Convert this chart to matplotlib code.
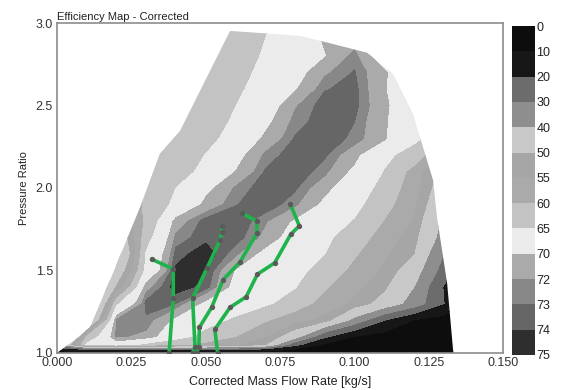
import numpy as np
import matplotlib.pyplot as plt
from matplotlib.patches import Polygon

plt.rcParams['font.family'] = ['Liberation Sans', 'DejaVu Sans']

# efficiency [%] sampled on a flow / pressure-ratio grid
flow = np.array([0.00, 0.01, 0.02, 0.03, 0.04, 0.05, 0.06, 0.07,
                 0.08, 0.09, 0.10, 0.11, 0.12, 0.13, 0.14])
pr = np.array([1.00, 1.02, 1.05, 1.10, 1.20, 1.30, 1.40, 1.50, 1.60, 1.70, 1.80,
               1.90, 2.00, 2.10, 2.20, 2.30, 2.40, 2.50, 2.60, 2.70, 2.80, 2.90, 3.00])
eff = np.array([
    [5, 8, 10, 10, 10, 10, 8, 6, 5, 5, 4, 4, 3, 3, 3],
    [12, 18, 20, 20, 19, 19, 18, 15, 8, 5, 5, 4, 4, 3, 3],
    [35, 66, 68, 63.5, 61, 58.5, 55.5, 50, 23, 8, 5, 5, 4, 4, 3],
    [10, 60, 72.3, 71.5, 67, 63.3, 60, 55, 44.5, 22, 10, 6, 5, 4, 3],
    [5, 34, 72.1, 72.8, 69.3, 66.9, 64.2, 60.6, 57, 53.1, 37, 20.5, 10, 6, 3],
    [5, 24, 63.8, 73.4, 73.0, 69.2, 67.5, 65.8, 62.6, 58.1, 53.7, 46.8, 35.7, 20.3, 3],
    [5, 18, 50.5, 71.3, 74.6, 73.6, 68.9, 67, 65.2, 60.6, 56.2, 51.1, 40, 19.5, 5],
    [10, 20, 43, 66.3, 74.3, 74.1, 69.8, 68, 66.3, 63.3, 58.6, 54, 45, 26, 8],
    [20, 28, 36, 65.5, 73.4, 74.8, 72.3, 69, 67, 65, 60.6, 55.9, 50, 30, 15],
    [30, 36, 42, 63, 72.4, 73.6, 73.6, 71.5, 68.4, 65.9, 62.8, 57.7, 52.1, 36, 22],
    [36, 42, 48, 61, 70.9, 73.5, 73.9, 72.2, 69.6, 67, 64.7, 59.8, 54.2, 38, 25],
    [40, 47, 54, 61, 66.1, 70.7, 72.9, 73.8, 72.3, 69.2, 66.3, 62, 55.9, 42, 30],
    [44, 50, 56, 60.8, 65, 69.1, 72.2, 73.7, 73.2, 70.8, 67.5, 63.5, 57.2, 45, 30],
    [46, 51, 57, 61.2, 62.8, 66.3, 70.0, 73.1, 73.8, 72.4, 69.3, 64.8, 58.3, 47, 38],
    [47, 52, 57, 61, 62.2, 65.1, 68.8, 72.3, 73.7, 73.2, 70.8, 66.1, 63, 55, 45],
    [48, 53, 57, 61, 62.2, 63.5, 66.8, 70.5, 73.1, 73.7, 72.7, 70.4, 66, 62, 54],
    [48, 53, 57, 60, 61.5, 63, 65.6, 69.2, 72.5, 73.6, 73.0, 70.4, 66.5, 62, 56],
    [48, 52, 56, 60, 61.5, 62.5, 64.9, 68.1, 71.8, 73.6, 73.4, 70.6, 67, 62, 56],
    [48, 52, 56, 59, 61, 62, 64.1, 66.9, 69.7, 72.9, 73.4, 70.3, 66, 61, 55],
    [48, 52, 56, 59, 61, 61.5, 63.5, 66.1, 68.7, 71.7, 73.1, 70.4, 66.8, 61, 55],
    [48, 52, 56, 59, 61, 61.5, 62.7, 65.5, 67.7, 69.8, 72.5, 68, 62, 57, 52],
    [48, 52, 56, 59, 61, 61.5, 62.2, 65, 67.7, 70.3, 71.2, 68.1, 64, 59, 54],
    [48, 52, 56, 59, 61, 61.5, 62, 64.5, 67, 69.5, 70.5, 67.5, 63.5, 58.5, 53.5],
])

levels = [0, 10, 20, 30, 40, 50, 55, 60, 65, 70, 72, 73, 74, 75]
band_colors = ['#0d0d0d', '#171717', '#6c6c6c', '#8e8e8e', '#c8c8c8', '#a6a6a6',
               '#aaaaaa', '#c3c3c3', '#ebebeb', '#aaaaaa', '#888888', '#666666',
               '#2e2e2e']

# outline of the operating range: surge line, top, choke line, PR = 1
edge_flow = [0.0000, 0.0050, 0.0111, 0.0188, 0.0279, 0.0346, 0.0414, 0.0481,
             0.0582, 0.0727, 0.0817, 0.0908, 0.1043, 0.1130, 0.1197, 0.1265,
             0.1278, 0.1312, 0.1332, 0.1334]
edge_pr = [1.000, 1.066, 1.157, 1.483, 1.882, 2.208, 2.347, 2.589,
           2.952, 2.934, 2.922, 2.882, 2.820, 2.692, 2.450, 2.045,
           1.822, 1.423, 1.018, 1.000]

# measured speed lines
line1_flow = [0.0319, 0.0391, 0.0391, 0.0377]
line1_pr = [1.568, 1.508, 1.333, 1.000]
line2_flow = [0.0554, 0.0554, 0.0548, 0.0504, 0.0456, 0.0464, 0.0456]
line2_pr = [1.767, 1.733, 1.683, 1.512, 1.331, 1.038, 1.000]
line3_flow = [0.0621, 0.0672, 0.0672, 0.0616, 0.0559, 0.0520, 0.0479, 0.0477, 0.0470]
line3_pr = [1.848, 1.799, 1.727, 1.552, 1.445, 1.276, 1.155, 1.038, 1.000]
line4_flow = [0.0785, 0.0815, 0.0786, 0.0732, 0.0674, 0.0636, 0.0582, 0.0531, 0.0540]
line4_pr = [1.900, 1.770, 1.719, 1.546, 1.477, 1.340, 1.276, 1.143, 1.000]

xtick_vals = [0.000, 0.025, 0.050, 0.075, 0.100, 0.125, 0.150]
ytick_vals = [1.0, 1.5, 2.0, 2.5, 3.0]

fig = plt.figure(figsize=(5.7, 3.9), dpi=100)
ax = fig.add_axes([0.1, 0.095, 0.7825, 0.846])

cs = ax.contourf(flow, pr, eff, levels=levels, colors=band_colors)
outline = Polygon(np.column_stack([edge_flow, edge_pr]), closed=True,
                  transform=ax.transData)
cs.set_clip_path(outline)

for fx, py in [(line1_flow, line1_pr), (line2_flow, line2_pr),
               (line3_flow, line3_pr), (line4_flow, line4_pr)]:
    ax.plot(fx, py, color='#1fb34b', lw=2.6, zorder=3)
    ax.plot(fx, py, 'o', ms=2.8, color='#5a5a5a', zorder=4)

ax.set_xlim(0, 0.15)
ax.set_ylim(1.0, 3.0)
ax.set_xticks(xtick_vals)
ax.set_xticklabels(['%.3f' % v for v in xtick_vals])
ax.set_yticks(ytick_vals)
ax.set_yticklabels(['%.1f' % v for v in ytick_vals])
ax.tick_params(length=0, labelsize=9, colors='#333333', pad=3)
for sp in ax.spines.values():
    sp.set_color('#8c8c8c')
    sp.set_linewidth(1.2)

ax.set_title('Efficiency Map - Corrected', loc='left', fontsize=8, pad=2, color='#222222')
ax.set_xlabel('Corrected Mass Flow Rate [kg/s]', fontsize=9, color='#222222', labelpad=5)
ax.set_ylabel('Pressure Ratio', fontsize=8, color='#222222', labelpad=5)

cax = fig.add_axes([0.898, 0.09, 0.0404, 0.843])
cb = fig.colorbar(cs, cax=cax, ticks=levels)
cb.outline.set_visible(False)
cax.invert_yaxis()
cax.tick_params(length=0, labelsize=9, colors='#222222', pad=1)

fig.savefig('out.png', dpi=100)
